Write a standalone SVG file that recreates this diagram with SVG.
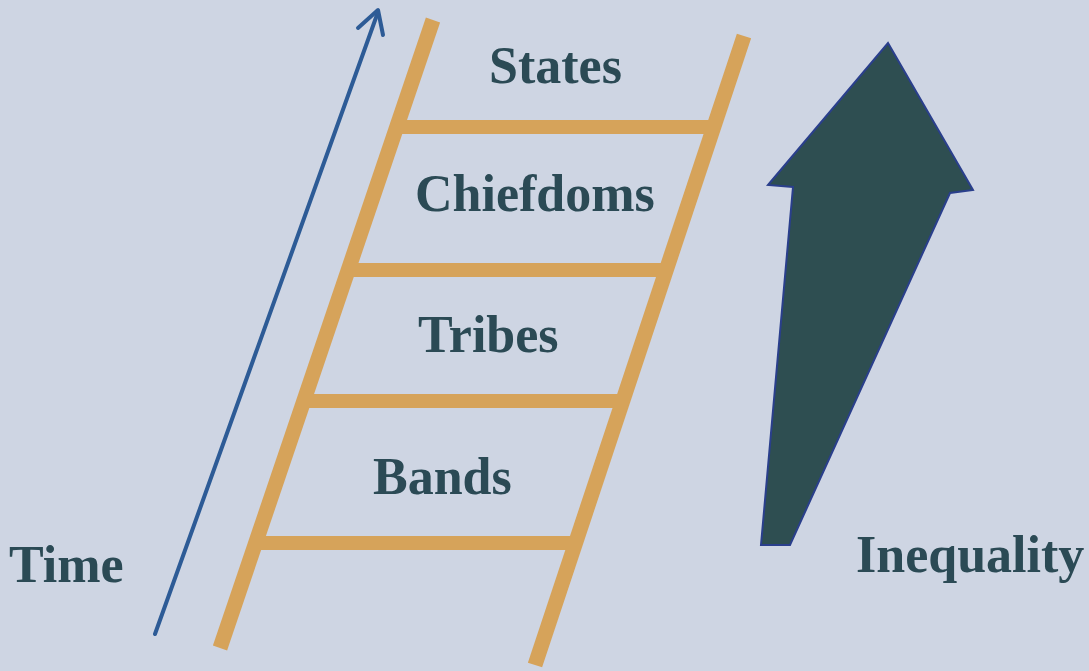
<svg xmlns="http://www.w3.org/2000/svg" width="1089" height="671" viewBox="0 0 1089 671">
<style>
.lbl{font-family:"Liberation Serif","Times New Roman",serif;font-weight:bold;font-size:52px;fill:#2B4A55}
.rail{stroke:#D6A35A;stroke-width:15;stroke-linecap:butt;fill:none}
.rung{stroke:#D6A35A;stroke-width:14;fill:none}
</style>
<rect width="1089" height="671" fill="#CED5E3"/>
<g id="ladder">
<line class="rail" x1="433" y1="20" x2="220" y2="648"/>
<line class="rail" x1="744" y1="36" x2="535" y2="665"/>
<line class="rung" x1="398" y1="127" x2="710" y2="127"/>
<line class="rung" x1="350" y1="270" x2="663" y2="270"/>
<line class="rung" x1="306" y1="401" x2="619" y2="401"/>
<line class="rung" x1="258" y1="543" x2="571" y2="543"/>
</g>
<g id="connectors">
<line x1="155" y1="634" x2="378" y2="12" stroke="#2D5B96" stroke-width="4" stroke-linecap="round"/>
<polyline points="358,28 378,10 383,35" fill="none" stroke="#2D5B96" stroke-width="4" stroke-linecap="round" stroke-linejoin="round"/>
</g>
<g id="inequality-arrow">
<polygon points="888,43 973,190 950,193 790,545 761,545 793,187 768,185" fill="#2E4E51" stroke="#2A3F8C" stroke-width="2" stroke-linejoin="miter"/>
</g>
<g id="states"><text class="lbl" x="489" y="83">States</text></g>
<g id="chiefdoms"><text class="lbl" x="415" y="211">Chiefdoms</text></g>
<g id="tribes"><text class="lbl" x="418" y="352">Tribes</text></g>
<g id="bands"><text class="lbl" x="373" y="494">Bands</text></g>
<g id="time"><text class="lbl" x="9" y="582">Time</text></g>
<g id="inequality"><text class="lbl" x="856" y="572">Inequality</text></g>
</svg>
